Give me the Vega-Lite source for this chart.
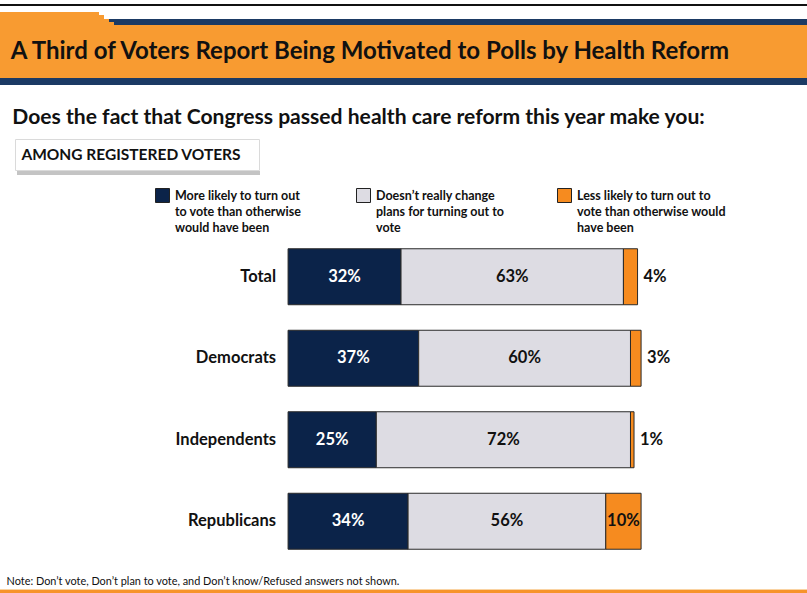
{
  "$schema": "https://vega.github.io/schema/vega-lite/v6.json",
  "padding": 0,
  "background": "white",
  "spacing": 0,
  "config": {"view": {"stroke": null}, "font": "Lato", "concat": {"spacing": 0}},
  "vconcat": [
    {"width": 807, "height": 4, "data": {"values": []}, "mark": "rect", "encoding": {}, "view": {"fill": "white"}},
    {"width": 807, "height": 2, "data": {"values": []}, "mark": "rect", "encoding": {}, "view": {"fill": "#111111"}},
    {"width": 807, "height": 6, "data": {"values": []}, "mark": "rect", "encoding": {}, "view": {"fill": "white"}},
    {"hconcat": [
      {"width": 99, "height": 3, "data": {"values": []}, "mark": "rect", "encoding": {}, "view": {"fill": "#F89B31"}},
      {"width": 708, "height": 3, "data": {"values": []}, "mark": "rect", "encoding": {}, "view": {"fill": "white"}}
    ], "spacing": 0},
    {"hconcat": [
      {"width": 104, "height": 4, "data": {"values": []}, "mark": "rect", "encoding": {}, "view": {"fill": "#F89B31"}},
      {"width": 703, "height": 4, "data": {"values": []}, "mark": "rect", "encoding": {}, "view": {"fill": "white"}}
    ], "spacing": 0},
    {"hconcat": [
      {"width": 109, "height": 3, "data": {"values": []}, "mark": "rect", "encoding": {}, "view": {"fill": "#F89B31"}},
      {"width": 698, "height": 3, "data": {"values": []}, "mark": "rect", "encoding": {}, "view": {"fill": "#1B3A64"}}
    ], "spacing": 0},
    {"hconcat": [
      {"width": 114, "height": 3, "data": {"values": []}, "mark": "rect", "encoding": {}, "view": {"fill": "#F89B31"}},
      {"width": 693, "height": 3, "data": {"values": []}, "mark": "rect", "encoding": {}, "view": {"fill": "#1B3A64"}}
    ], "spacing": 0},
    {"hconcat": [
      {"width": 740, "height": 53, "view": {"fill": "#F89B31"},
       "data": {"values": [{"t": "A Third of Voters Report Being Motivated to Polls by Health Reform"}]},
       "mark": {"type": "text", "font": "Lato", "fontSize": 24, "fontWeight": "bold", "color": "#111111", "align": "center", "baseline": "middle"},
       "encoding": {"text": {"field": "t"}}},
      {"width": 67, "height": 53, "data": {"values": []}, "mark": "rect", "encoding": {}, "view": {"fill": "#F89B31"}}
    ], "spacing": 0},
    {"width": 807, "height": 7, "data": {"values": []}, "mark": "rect", "encoding": {}, "view": {"fill": "#1B3A64"}},
    {"width": 807, "height": 20, "data": {"values": []}, "mark": "rect", "encoding": {}, "view": {"fill": "white"}},
    {"hconcat": [
      {"width": 717, "height": 26, "view": {"fill": "white"},
       "data": {"values": [{"t": "Does the fact that Congress passed health care reform this year make you:"}]},
       "mark": {"type": "text", "font": "Lato", "fontSize": 21.1, "fontWeight": "bold", "color": "#111111", "align": "center", "baseline": "middle"},
       "encoding": {"text": {"field": "t"}}},
      {"width": 90, "height": 26, "data": {"values": []}, "mark": "rect", "encoding": {}, "view": {"fill": "white"}}
    ], "spacing": 0},
    {"width": 807, "height": 7, "data": {"values": []}, "mark": "rect", "encoding": {}, "view": {"fill": "white"}},
    {"hconcat": [
      {"width": 14, "height": 31, "data": {"values": []}, "mark": "rect", "encoding": {}, "view": {"fill": "white"}},
      {"width": 244, "height": 31, "view": {"fill": "white", "stroke": "#DADADA"},
       "data": {"values": [{"t": "AMONG REGISTERED VOTERS"}]},
       "mark": {"type": "text", "font": "Lato", "fontSize": 15.5, "fontWeight": "bold", "color": "#111111", "align": "center", "baseline": "middle", "dx": -6},
       "encoding": {"text": {"field": "t"}}},
      {"width": 549, "height": 31, "data": {"values": []}, "mark": "rect", "encoding": {}, "view": {"fill": "white"}}
    ], "spacing": 0},
    {"hconcat": [
      {"width": 17, "height": 4, "data": {"values": []}, "mark": "rect", "encoding": {}, "view": {"fill": "white"}},
      {"width": 243, "height": 4, "data": {"values": []}, "mark": "rect", "encoding": {}, "view": {"fill": "#C4C4C4"}},
      {"width": 547, "height": 4, "data": {"values": []}, "mark": "rect", "encoding": {}, "view": {"fill": "white"}}
    ], "spacing": 0},
    {"width": 807, "height": 61, "data": {"values": []}, "mark": "rect", "encoding": {}, "view": {"fill": "white"}},
    {
      "width": 807,
      "height": 326,
      "view": {"fill": "white"},
      "data": {"values": [
        {"group": "Total", "cat": "c1", "value": 0.32},
        {"group": "Total", "cat": "c2", "value": 0.63},
        {"group": "Total", "cat": "c3", "value": 0.04},
        {"group": "Democrats", "cat": "c1", "value": 0.37},
        {"group": "Democrats", "cat": "c2", "value": 0.60},
        {"group": "Democrats", "cat": "c3", "value": 0.03},
        {"group": "Independents", "cat": "c1", "value": 0.25},
        {"group": "Independents", "cat": "c2", "value": 0.72},
        {"group": "Independents", "cat": "c3", "value": 0.01},
        {"group": "Republicans", "cat": "c1", "value": 0.34},
        {"group": "Republicans", "cat": "c2", "value": 0.56},
        {"group": "Republicans", "cat": "c3", "value": 0.10}
      ]},
      "encoding": {
        "y": {"field": "group", "type": "nominal", "sort": ["Total", "Democrats", "Independents", "Republicans"], "axis": null,
              "scale": {"paddingInner": 0.313, "paddingOuter": 0.1565}}
      },
      "layer": [
        {
          "mark": {"type": "bar", "stroke": "#2A2A2A", "strokeWidth": 1},
          "encoding": {
            "x": {"field": "value", "type": "quantitative", "stack": "zero", "axis": null,
                  "scale": {"domain": [-0.816, 1.47], "nice": false, "zero": false}},
            "order": {"field": "cat", "sort": "ascending"},
            "color": {"field": "cat", "type": "nominal",
              "scale": {"domain": ["c1", "c2", "c3"], "range": ["#0B2349", "#DDDCE3", "#F68B1F"]},
              "legend": {
                "orient": "none", "legendX": 155, "legendY": 188,
                "direction": "horizontal", "columns": 3, "title": null,
                "labelExpr": "datum.value == 'c1' ? ['More likely to turn out', 'to vote than otherwise', 'would have been'] : datum.value == 'c2' ? ['Doesn’t really change', 'plans for turning out to', 'vote'] : ['Less likely to turn out to', 'vote than otherwise would', 'have been']",
                "labelFont": "Lato", "labelFontSize": 12.5, "labelFontWeight": "bold", "labelColor": "#111111",
                "labelLimit": 300, "labelOffset": 5,
                "symbolType": "square", "symbolSize": 196, "symbolStrokeColor": "#222222", "symbolStrokeWidth": 1, "symbolOpacity": 1,
                "columnPadding": 30, "gridAlign": "all",
                "encoding": {"labels": {"lineHeight": {"value": 16}}}
              }}
          }
        },
        {
          "mark": {"type": "text", "font": "Lato", "fontSize": 16.5, "fontWeight": "bold", "align": "center", "baseline": "middle"},
          "encoding": {
            "x": {"field": "value", "type": "quantitative", "stack": "zero", "bandPosition": 0.5},
            "detail": {"field": "cat"},
            "order": {"field": "cat", "sort": "ascending"},
            "text": {"condition": {"test": "!(datum.cat == 'c3' && datum.value < 0.05)", "field": "value", "format": ".0%"}, "value": ""},
            "color": {"condition": {"test": "datum.cat == 'c1'", "value": "white"}, "value": "#111111"}
          }
        },
        {
          "mark": {"type": "text", "font": "Lato", "fontSize": 16.5, "fontWeight": "bold", "align": "left", "baseline": "middle", "dx": 6, "color": "#111111"},
          "encoding": {
            "x": {"field": "value", "type": "quantitative", "stack": "zero"},
            "detail": {"field": "cat"},
            "order": {"field": "cat", "sort": "ascending"},
            "text": {"condition": {"test": "datum.cat == 'c3' && datum.value < 0.05", "field": "value", "format": ".0%"}, "value": ""}
          }
        },
        {
          "transform": [{"filter": "datum.cat == 'c1'"}],
          "mark": {"type": "text", "font": "Lato", "fontSize": 16.5, "fontWeight": "bold", "align": "right", "baseline": "middle", "dx": -12, "color": "#111111"},
          "encoding": {
            "x": {"datum": 0, "type": "quantitative"},
            "text": {"field": "group"}
          }
        }
      ]
    },
    {"width": 807, "height": 13, "data": {"values": []}, "mark": "rect", "encoding": {}, "view": {"fill": "white"}},
    {"hconcat": [
      {"width": 406, "height": 14, "view": {"fill": "white"},
       "data": {"values": [{"t": "Note: Don’t vote, Don’t plan to vote, and Don’t know/Refused answers not shown."}]},
       "mark": {"type": "text", "font": "Lato", "fontSize": 10.9, "color": "#111111", "align": "center", "baseline": "middle"},
       "encoding": {"text": {"field": "t"}}},
      {"width": 401, "height": 14, "data": {"values": []}, "mark": "rect", "encoding": {}, "view": {"fill": "white"}}
    ], "spacing": 0},
    {"width": 807, "height": 1, "data": {"values": []}, "mark": "rect", "encoding": {}, "view": {"fill": "#FAD3A2"}},
    {"width": 807, "height": 5, "data": {"values": []}, "mark": "rect", "encoding": {}, "view": {"fill": "#F7932A"}}
  ]
}
